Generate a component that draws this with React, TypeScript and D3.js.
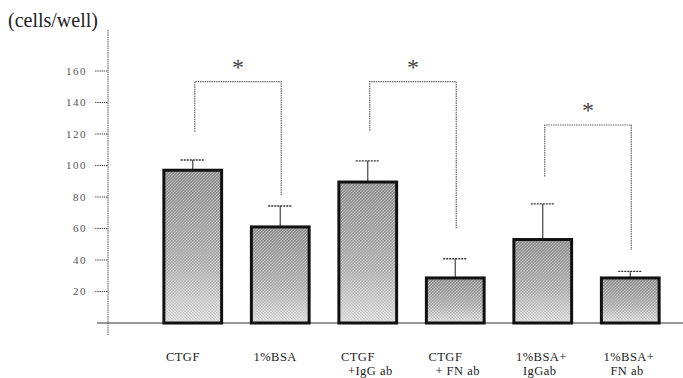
import React from "react";
import * as d3 from "d3";

const categories = ["CTGF", "1%BSA", "CTGF2", "CTGF3", "1%BSA+2", "1%BSA+3"];
const labelLines = [
  ["CTGF"],
  ["1%BSA"],
  ["CTGF", "+IgG ab"],
  ["CTGF", "+ FN ab"],
  ["1%BSA+", "IgGab"],
  ["1%BSA+", "FN ab"],
];
const means = [97, 61, 89.5, 28.6, 53, 28.6];
const errTops = [103.5, 74.3, 103, 40.8, 75.6, 32.8];
const yTicks = [20, 40, 60, 80, 100, 120, 140, 160];
// significance brackets
const bracketLeft = [0, 2, 4];
const bracketRight = [1, 3, 5];
const bracketLeftBottom = [121.5, 122, 93];
const bracketTopVal = [153.2, 153.2, 125.7];
const bracketRightBottom = [80.6, 60.1, 46.3];

export default function App() {
  const W = 683, H = 378;
  const x = d3.scaleBand<string>().domain(categories).range([149, 674]).paddingInner(0.34).paddingOuter(0.17);
  const y = d3.scaleLinear().domain([0, 160]).range([323, 71]);
  const bw = x.bandwidth();
  const cx = (i: number) => (x(categories[i]) as number) + bw / 2;
  const axisX = 108;
  const baseY = y(0);
  const serif = "Liberation Serif, DejaVu Serif, serif";

  return (
    <div style={{ position: "absolute", left: 0, top: 0 }}>
      <svg width={W} height={H} style={{ display: "block", background: "#fff" }}>
        <defs>
          <linearGradient id="barGrad" x1="0" y1="0" x2="0" y2="1">
            <stop offset="0%" stopColor="#939393" />
            <stop offset="60%" stopColor="#b2b2b2" />
            <stop offset="100%" stopColor="#dedede" />
          </linearGradient>
          <pattern id="hatch" width="3" height="3" patternUnits="userSpaceOnUse">
            <path d="M0,3 L3,0" stroke="#ffffff" strokeOpacity="0.4" strokeWidth="0.8" />
            <path d="M0,0 L3,3" stroke="#000000" strokeOpacity="0.1" strokeWidth="0.7" />
          </pattern>
        </defs>

        <text x={8} y={27} fontFamily={serif} fontSize={20} fill="#222">(cells/well)</text>

        {/* y axis */}
        <line x1={axisX} x2={axisX} y1={30} y2={335} stroke="#555" strokeWidth={1} strokeDasharray="1.5,0.7" />
        <line x1={97} x2={683} y1={baseY} y2={baseY} stroke="#333" strokeWidth={1.2} />
        {yTicks.map((t) => (
          <g key={t}>
            <line x1={95} x2={axisX} y1={y(t)} y2={y(t)} stroke="#555" strokeWidth={1} strokeDasharray="1.5,0.7" />
            <text x={87} y={y(t)} dy="0.35em" textAnchor="end" fontFamily={serif} fontSize={11} letterSpacing={1.5} fill="#555">
              {t}
            </text>
          </g>
        ))}

        {/* bars */}
        {categories.map((c, i) => {
          const x0 = x(c) as number;
          const top = y(means[i]);
          return (
            <g key={c}>
              <line x1={cx(i)} x2={cx(i)} y1={top} y2={y(errTops[i])} stroke="#444" strokeWidth={1.2} />
              <line x1={cx(i) - 12} x2={cx(i) + 12} y1={y(errTops[i])} y2={y(errTops[i])} stroke="#333" strokeWidth={1.3} strokeDasharray="2,1" />
              <rect x={x0} y={top} width={bw} height={baseY - top} fill="url(#barGrad)" />
              <rect x={x0} y={top} width={bw} height={baseY - top} fill="url(#hatch)" stroke="#111" strokeWidth={3} />
            </g>
          );
        })}

        {/* significance brackets */}
        {bracketLeft.map((li, k) => {
          const xl = cx(li) + 2;
          const xr = cx(bracketRight[k]) + 1;
          const yt = y(bracketTopVal[k]);
          return (
            <g key={k}>
              <path
                d={`M${xl},${y(bracketLeftBottom[k])} L${xl},${yt} L${xr},${yt} L${xr},${y(bracketRightBottom[k])}`}
                fill="none"
                stroke="#666"
                strokeWidth={1.2}
                strokeDasharray="1.5,0.8"
              />
              <text x={(xl + xr) / 2} y={yt - 7} textAnchor="middle" fontFamily={serif} fontSize={24} fill="#444">
                *
              </text>
            </g>
          );
        })}

        {/* category labels */}
        {categories.map((c, i) => {
          const x0 = x(c) as number;
          return (
            <text key={c} fontFamily={serif} fontSize={12.5} fill="#222" letterSpacing={0.5}>
              {labelLines[i].map((ln, j) => (
                <tspan key={j} x={x0 + 2 + j * 7} y={361 + j * 13.5}>
                  {ln}
                </tspan>
              ))}
            </text>
          );
        })}
      </svg>
    </div>
  );
}
